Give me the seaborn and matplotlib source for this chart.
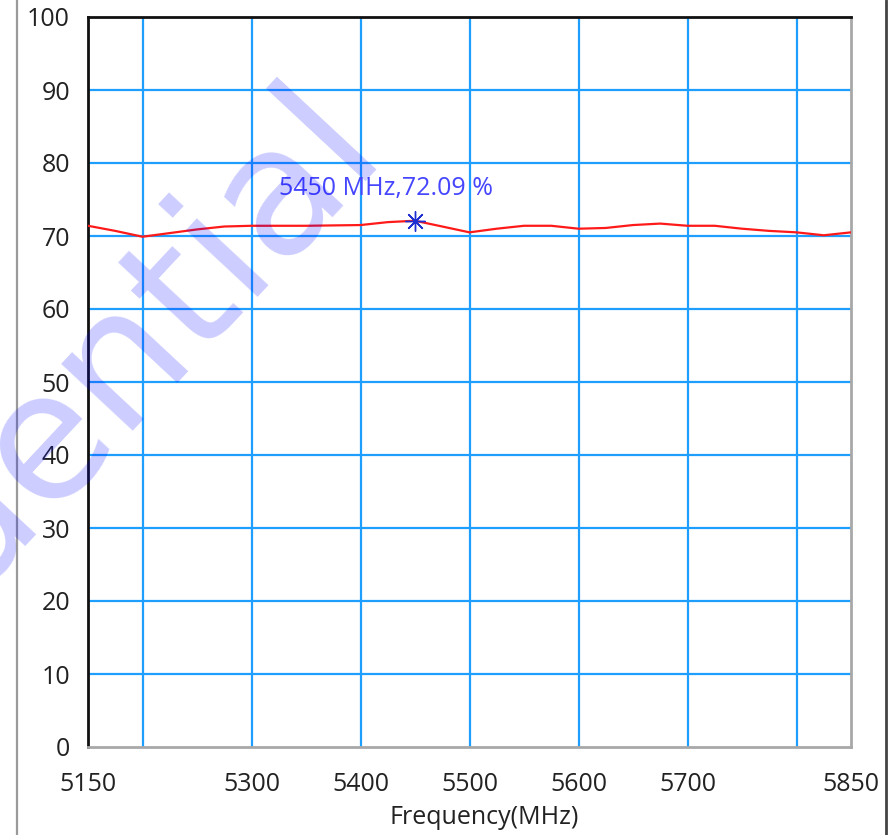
import matplotlib
matplotlib.use("Agg")
import matplotlib.pyplot as plt
from matplotlib.lines import Line2D
import pandas as pd
import seaborn as sns

# efficiency curve
freq_mhz = [5150, 5175, 5200, 5225, 5250, 5275, 5300, 5350, 5400, 5425, 5450,
            5475, 5500, 5525, 5550, 5575, 5600, 5625, 5650, 5675, 5700, 5725,
            5750, 5775, 5800, 5825, 5850]
efficiency = [71.4, 70.7, 69.9, 70.4, 70.9, 71.3, 71.4, 71.4, 71.5, 71.9, 72.09,
              71.3, 70.5, 71.0, 71.4, 71.4, 71.0, 71.1, 71.5, 71.7, 71.4, 71.4,
              71.0, 70.7, 70.5, 70.1, 70.5]

marker_freq = [5450]
marker_eff = [72.09]
marker_label = "5450 MHz,72.09 %"

x_ticks = [5150, 5200, 5300, 5400, 5500, 5600, 5700, 5800, 5850]
x_tick_labels = ["5150", "", "5300", "5400", "5500", "5600", "5700", "", "5850"]
x_grid = [5200, 5300, 5400, 5500, 5600, 5700, 5800]
y_ticks = list(range(0, 101, 10))

df = pd.DataFrame({"freq": freq_mhz, "eff": efficiency})
mk = pd.DataFrame({"freq": marker_freq, "eff": marker_eff})

sns.set_style("white")
plt.rcParams["font.family"] = ["Open Sans", "DejaVu Sans"]

fig = plt.figure(figsize=(8.91, 8.35), dpi=100)
ax = fig.add_axes([88 / 891, 1 - 747 / 835, (851 - 88) / 891, (747 - 17) / 835])

grid_col = "#1e9eff"
for gx in x_grid:
    ax.axvline(gx, color=grid_col, lw=1.6, zorder=1)
for gy in y_ticks[1:-1]:
    ax.axhline(gy, color=grid_col, lw=1.6, zorder=1)

sns.lineplot(data=df, x="freq", y="eff", ax=ax, color="#ff1a1a", lw=1.6, zorder=3)
sns.scatterplot(data=mk, x="freq", y="eff", ax=ax, marker=(8, 2, 0), s=200,
                color="#1f2fd0", linewidth=1.0, zorder=4)
ax.annotate(marker_label, xy=(marker_freq[0], marker_eff[0]), xytext=(-21, 23.5),
            textcoords="offset points", ha="center", va="center",
            fontsize=18, color="#4646ff", zorder=5)

ax.set_xlim(5150, 5850)
ax.set_ylim(0, 100)
ax.set_xticks(x_ticks)
ax.set_xticklabels(x_tick_labels)
ax.set_yticks(y_ticks)
ax.tick_params(axis="both", direction="out", length=9, width=1.6, color="#222222",
               labelsize=18, labelcolor="#222222", pad=4)
ax.tick_params(axis="x", pad=9)
ax.set_xlabel("Frequency(MHz)", fontsize=18, color="#222222")
ax.set_ylabel("")
ax.xaxis.set_label_coords(0.519, -0.08)

for side in ["left", "top"]:
    ax.spines[side].set_color("#111111")
    ax.spines[side].set_linewidth(2)
for side in ["right", "bottom"]:
    ax.spines[side].set_color("#a8a8a8")
    ax.spines[side].set_linewidth(2)

# window frame lines
fig.add_artist(Line2D([17 / 891, 17 / 891], [0, 1], color="#9a9a9a", lw=1.6))
fig.add_artist(Line2D([886 / 891, 886 / 891], [0, 1], color="#444444", lw=2))

# watermark
fig.text(385 / 891, 1 - 150 / 835, "Confidential", fontsize=128, color="#0000ff",
         alpha=0.2, rotation=47, rotation_mode="anchor", ha="right", va="baseline",
         family=["DejaVu Sans"], zorder=10)

fig.savefig("out.png", dpi=100)
